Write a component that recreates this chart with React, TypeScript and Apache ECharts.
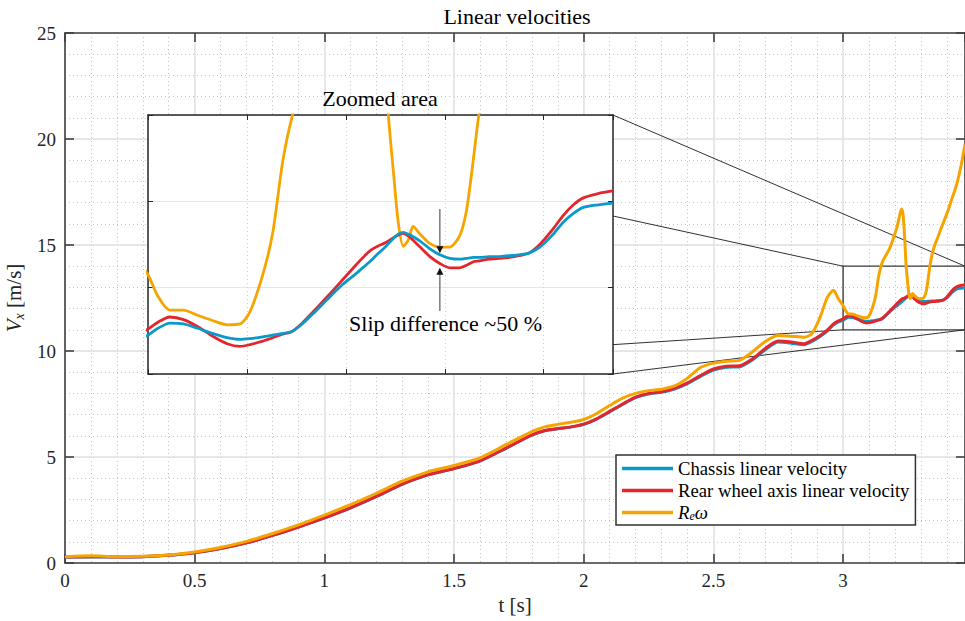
import React, { useEffect, useRef } from "react";
import * as echarts from "echarts";

// ---------- data ----------
const timeS = [
  0, 0.1, 0.2, 0.3, 0.4, 0.5, 0.6, 0.7, 0.8, 0.9, 1.0, 1.1, 1.2, 1.3, 1.4, 1.5, 1.6, 1.7, 1.8,
  1.85, 1.9, 1.95, 2.0,
  2.05, 2.1, 2.15, 2.2, 2.25, 2.3, 2.35, 2.4, 2.45, 2.5, 2.55, 2.6, 2.65, 2.7, 2.75, 2.8, 2.85,
  2.88, 2.91, 2.94, 2.963, 2.982,
  3.0, 3.01, 3.022, 3.036, 3.05, 3.065, 3.08, 3.093, 3.103, 3.116, 3.126, 3.136, 3.145, 3.155, 3.167, 3.18,
  3.195, 3.21, 3.22, 3.226, 3.232, 3.238, 3.243, 3.248, 3.253, 3.258, 3.263, 3.268, 3.275, 3.285, 3.295, 3.305,
  3.315, 3.322, 3.329, 3.335, 3.345, 3.355, 3.365, 3.375, 3.385, 3.396, 3.408, 3.42, 3.43, 3.44, 3.455, 3.47,
];

const chassisV = [
  0.27, 0.29, 0.28, 0.3, 0.36, 0.48, 0.68, 0.95, 1.3, 1.7, 2.12, 2.59, 3.13, 3.71, 4.16, 4.45, 4.81, 5.41, 6.03,
  6.24, 6.33, 6.41, 6.54,
  6.79, 7.13, 7.48, 7.8, 7.97, 8.05, 8.2, 8.46, 8.8, 9.1, 9.23, 9.25, 9.57, 10.06, 10.42, 10.37, 10.3,
  10.45, 10.67, 10.95, 11.23, 11.37,
  11.45, 11.53, 11.59, 11.58, 11.53, 11.47, 11.42, 11.4, 11.41, 11.43, 11.45, 11.47, 11.49, 11.57, 11.7, 11.85,
  12.02, 12.16, 12.26, 12.32, 12.39, 12.45, 12.51, 12.57, 12.62, 12.64, 12.62, 12.59, 12.54, 12.45, 12.38, 12.34,
  12.33, 12.34, 12.35, 12.35, 12.36, 12.36, 12.37, 12.38, 12.4, 12.47, 12.6, 12.76, 12.86, 12.93, 12.96, 12.98,
];

const rearAxisV = [
  0.28, 0.3, 0.28, 0.3, 0.36, 0.48, 0.68, 0.95, 1.3, 1.7, 2.13, 2.6, 3.14, 3.72, 4.17, 4.46, 4.82, 5.42, 6.04,
  6.25, 6.34, 6.42, 6.55,
  6.8, 7.15, 7.5, 7.82, 8.0, 8.08, 8.24, 8.5, 8.84, 9.15, 9.28, 9.3, 9.62, 10.12, 10.47, 10.42, 10.34,
  10.5, 10.72, 11.0, 11.28, 11.42,
  11.52, 11.6, 11.66, 11.63, 11.55, 11.44, 11.35, 11.32, 11.34, 11.38, 11.42, 11.46, 11.49, 11.58, 11.72, 11.88,
  12.07, 12.26, 12.38, 12.44, 12.48, 12.51, 12.54, 12.58, 12.61, 12.63, 12.6, 12.55, 12.47, 12.36, 12.28, 12.23,
  12.23, 12.26, 12.3, 12.31, 12.33, 12.34, 12.35, 12.37, 12.4, 12.5, 12.66, 12.84, 12.96, 13.04, 13.09, 13.12,
];

const reOmegaV = [
  0.3, 0.34, 0.3, 0.32, 0.38, 0.52, 0.73, 1.02, 1.39, 1.8, 2.26, 2.75, 3.29, 3.86, 4.3, 4.6, 4.96, 5.58, 6.2,
  6.42, 6.54, 6.64, 6.77,
  7.05, 7.43, 7.78, 8.0, 8.13, 8.2, 8.35, 8.72, 9.22, 9.43, 9.52, 9.56, 9.95, 10.45, 10.73, 10.7, 10.65,
  10.82, 11.55, 12.55, 12.86, 12.45,
  12.15, 11.9, 11.74, 11.74, 11.68, 11.62, 11.57, 11.58, 11.72, 12.15, 12.63, 13.45, 13.95, 14.3, 14.55, 14.85,
  15.35, 15.95, 16.5, 16.7, 16.35, 15.2, 14.0, 13.35, 12.75, 12.48, 12.55, 12.71, 12.62, 12.51, 12.47, 12.47,
  12.6, 12.9, 13.5, 14.05, 14.65, 15.05, 15.35, 15.7, 16.0, 16.35, 16.75, 17.2, 17.55, 17.95, 18.75, 19.75,
];

const seriesNames = ["Chassis linear velocity", "Rear wheel axis linear velocity", "Re ω"];

// axes ranges
const mainT = [0, 3.47];
const mainV = [0, 25];
const zoomT = [3.0, 3.47];
const zoomV = [11, 14];
// connector anchor values on the inset's right edge
const insetAnchorUpperV = 12.83;
const insetAnchorLowerV = 11.34;
// slip annotation (inset coordinates)
const arrowT = 3.295;
const arrowTop = [12.91, 12.4];
const arrowBottom = [11.73, 12.23];
const slipLabelPos = [3.3007, 11.58];

// ---------- styles ----------
const FONT = "Times New Roman";
const AX = "#404040";
const TXT = "#262626";
const C_BLUE = "#0a99c9";
const C_RED = "#e2262b";
const C_ORANGE = "#f5a400";

const pairs = (v: number[]) => timeS.map((t, i) => [t, v[i]]);

const txt = (size: number, color: string, extra: any = {}) => ({
  fontFamily: FONT,
  fontWeight: 400,
  fontSize: size,
  color,
  ...extra,
});

export default function App() {
  const ref = useRef<HTMLDivElement>(null);

  useEffect(() => {
    if (!ref.current) return;
    const chart = echarts.init(ref.current, null, { renderer: "svg" });

    const lineSeries = (name: string, data: number[], color: string, xi: number, yi: number, z: number, w: number) => ({
      type: "line",
      name,
      data: pairs(data),
      xAxisIndex: xi,
      yAxisIndex: yi,
      showSymbol: false,
      symbol: "none",
      smooth: 0.25,
      clip: true,
      z,
      lineStyle: { color, width: w },
      itemStyle: { color },
      emphasis: { disabled: true },
      silent: true,
    });

    const hiddenAxisBits = {
      axisLabel: { show: false },
      axisTick: { show: false },
      axisLine: { show: false },
      splitLine: { show: false },
    };

    const frameAxis = (color: string, w: number, tickLen: number, tickW: number) => ({
      axisLine: { show: true, onZero: false, lineStyle: { color, width: w } },
      axisTick: { show: true, inside: true, length: tickLen, lineStyle: { color, width: tickW } },
    });

    const option: any = {
      animation: false,
      title: [
        { text: "Linear velocities", left: 517, top: 5, padding: 0, textAlign: "center", textStyle: txt(22, "#000") },
        { text: "Zoomed area", left: 380, top: 87, padding: 0, textAlign: "center", textStyle: txt(22, "#000") },
      ],
      legend: {
        orient: "vertical",
        left: 616,
        top: 455,
        data: seriesNames,
        icon: "rect",
        itemWidth: 51,
        itemHeight: 3.5,
        itemGap: 3,
        padding: [4, 6, 3, 6],
        backgroundColor: "#ffffff",
        borderColor: "#333333",
        borderWidth: 1.5,
        borderRadius: 0,
        z: 10,
        selectedMode: false,
        formatter: (name: string) => (name === "Re ω" ? "{i|R}{s|e}{i|ω}" : name),
        textStyle: txt(18.7, "#000", {
          lineHeight: 18,
          rich: {
            i: txt(18.7, "#000", { fontStyle: "italic", lineHeight: 18 }),
            s: txt(12, "#000", { fontStyle: "italic", lineHeight: 8, verticalAlign: "bottom" }),
          },
        }),
      },
      grid: [
        { left: 65, top: 33, right: 0, height: 530, show: false, z: 0, containLabel: false, outerBoundsMode: "none" },
        {
          left: 148, top: 115, width: 465, height: 259, show: true, backgroundColor: "#ffffff", borderWidth: 0, z: 4,
          containLabel: false, outerBoundsMode: "none",
        },
        { left: 65, top: 33, right: 0, height: 530, show: false, z: 0, containLabel: false, outerBoundsMode: "none" },
      ],
      xAxis: [
        {
          type: "value",
          gridIndex: 0,
          position: "bottom",
          min: mainT[0],
          max: mainT[1],
          interval: 0.5,
          z: 1,
          ...frameAxis(AX, 1.6, 9, 1.6),
          axisLabel: { show: true, ...txt(19, TXT), margin: 8, showMaxLabel: false },
          splitLine: { show: true, lineStyle: { color: "#e2e2e2", width: 1.5 } },
          name: "t [s]",
          nameLocation: "middle",
          nameGap: 30,
          nameTextStyle: txt(21, TXT),
        },
        {
          type: "value",
          gridIndex: 0,
          position: "top",
          min: mainT[0],
          max: mainT[1],
          interval: 0.5,
          z: 1,
          ...frameAxis(AX, 1.6, 9, 1.6),
          axisLabel: { show: false },
          splitLine: { show: false },
        },
        {
          type: "value",
          gridIndex: 1,
          position: "bottom",
          min: zoomT[0],
          max: zoomT[1],
          interval: 0.1,
          z: 5,
          ...frameAxis("#262626", 1.5, 5, 1),
          axisLabel: { show: false },
          splitLine: { show: true, lineStyle: { color: "#cfcfcf", width: 1, type: [1, 3] } },
        },
        {
          type: "value",
          gridIndex: 1,
          position: "top",
          min: zoomT[0],
          max: zoomT[1],
          interval: 0.1,
          z: 5,
          ...frameAxis("#262626", 1.5, 5, 1),
          axisLabel: { show: false },
          splitLine: { show: false },
        },
        {
          type: "value",
          gridIndex: 2,
          position: "bottom",
          min: mainT[0],
          max: mainT[1],
          interval: 0.1,
          z: 0,
          ...hiddenAxisBits,
          splitLine: { show: true, lineStyle: { color: "#c4c4c4", width: 1, type: [1, 3] } },
        },
      ],
      yAxis: [
        {
          type: "value",
          gridIndex: 0,
          position: "left",
          min: mainV[0],
          max: mainV[1],
          interval: 5,
          z: 1,
          ...frameAxis(AX, 1.6, 9, 1.6),
          axisLabel: { show: true, ...txt(19, TXT), margin: 9 },
          splitLine: { show: true, lineStyle: { color: "#e2e2e2", width: 1.5 } },
          name: "{v|V}{s|x} [m/s]",
          nameLocation: "middle",
          nameGap: 31,
          nameRotate: 90,
          nameTextStyle: txt(21, TXT, {
            lineHeight: 24,
            rich: {
              v: txt(21, TXT, { fontStyle: "italic", lineHeight: 24 }),
              s: txt(14, TXT, { fontStyle: "italic", lineHeight: 10, verticalAlign: "bottom" }),
            },
          }),
        },
        {
          type: "value",
          gridIndex: 0,
          position: "right",
          min: mainV[0],
          max: mainV[1],
          interval: 5,
          z: 1,
          ...frameAxis(AX, 1.6, 9, 1.6),
          axisLabel: { show: false },
          splitLine: { show: false },
        },
        {
          type: "value",
          gridIndex: 1,
          position: "left",
          min: zoomV[0],
          max: zoomV[1],
          interval: 1,
          z: 5,
          ...frameAxis("#262626", 1.5, 5, 1),
          axisLabel: { show: false },
          splitLine: { show: true, lineStyle: { color: "#e6e6e6", width: 1.2 } },
        },
        {
          type: "value",
          gridIndex: 1,
          position: "right",
          min: zoomV[0],
          max: zoomV[1],
          interval: 1,
          z: 5,
          ...frameAxis("#262626", 1.5, 5, 1),
          axisLabel: { show: false },
          splitLine: { show: false },
        },
        {
          type: "value",
          gridIndex: 2,
          position: "left",
          min: mainV[0],
          max: mainV[1],
          interval: 1,
          z: 0,
          ...hiddenAxisBits,
          splitLine: { show: true, lineStyle: { color: "#c4c4c4", width: 1, type: [1, 3] } },
        },
      ],
      series: [
        lineSeries(seriesNames[0], chassisV, C_BLUE, 0, 0, 3, 3),
        lineSeries(seriesNames[1], rearAxisV, C_RED, 0, 0, 3, 3),
        lineSeries(seriesNames[2], reOmegaV, C_ORANGE, 0, 0, 3, 3),
        lineSeries(seriesNames[2], reOmegaV, C_ORANGE, 2, 2, 6, 2.8),
        lineSeries(seriesNames[1], rearAxisV, C_RED, 2, 2, 6, 2.8),
        lineSeries(seriesNames[0], chassisV, C_BLUE, 2, 2, 6, 2.8),
      ],
    };

    chart.setOption(option);

    const m = (x: number, y: number) => chart.convertToPixel({ xAxisIndex: 0, yAxisIndex: 0 } as any, [x, y]) as number[];
    const z = (x: number, y: number) => chart.convertToPixel({ xAxisIndex: 2, yAxisIndex: 2 } as any, [x, y]) as number[];

    const rTL = m(zoomT[0], zoomV[1]);
    const rTR = m(zoomT[1], zoomV[1]);
    const rBL = m(zoomT[0], zoomV[0]);
    const rBR = m(zoomT[1], zoomV[0]);
    const iTR = z(zoomT[1], zoomV[1]);
    const iU = z(zoomT[1], insetAnchorUpperV);
    const iL = z(zoomT[1], insetAnchorLowerV);
    const iBR = z(zoomT[1], zoomV[0]);

    const connector = (a: number[], b: number[]) => ({
      type: "line",
      z: 2,
      silent: true,
      shape: { x1: a[0], y1: a[1], x2: b[0], y2: b[1] },
      style: { stroke: "#1a1a1a", lineWidth: 0.9 },
    });

    const aTopStart = z(arrowT, arrowTop[0]);
    const aTopTip = z(arrowT, arrowTop[1]);
    const aBotStart = z(arrowT, arrowBottom[0]);
    const aBotTip = z(arrowT, arrowBottom[1]);
    const head = (tip: number[], dir: number) => ({
      type: "polygon",
      z: 8,
      silent: true,
      shape: {
        points: [
          [tip[0], tip[1]],
          [tip[0] - 3.5, tip[1] - dir * 7],
          [tip[0] + 3.5, tip[1] - dir * 7],
        ],
      },
      style: { fill: "#111111" },
    });
    const lbl = z(slipLabelPos[0], slipLabelPos[1]);

    chart.setOption({
      graphic: [
        {
          type: "rect",
          z: 2,
          silent: true,
          shape: { x: rTL[0], y: rTL[1], width: rTR[0] - rTL[0], height: rBL[1] - rTL[1] },
          style: { fill: "none", stroke: "#3a3a3a", lineWidth: 1.3 },
        },
        connector(iTR, rTR),
        connector(iU, rTL),
        connector(iL, rBL),
        connector(iBR, rBR),
        {
          type: "line",
          z: 8,
          silent: true,
          shape: { x1: aTopStart[0], y1: aTopStart[1], x2: aTopTip[0], y2: aTopTip[1] - 5 },
          style: { stroke: "#666666", lineWidth: 1.3 },
        },
        head(aTopTip, 1),
        {
          type: "line",
          z: 8,
          silent: true,
          shape: { x1: aBotStart[0], y1: aBotStart[1], x2: aBotTip[0], y2: aBotTip[1] + 5 },
          style: { stroke: "#666666", lineWidth: 1.3 },
        },
        head(aBotTip, -1),
        {
          type: "text",
          z: 8,
          silent: true,
          x: lbl[0],
          y: lbl[1],
          style: {
            text: "Slip difference ~50 %",
            fontFamily: FONT,
            fontWeight: 400,
            fontSize: 22,
            fill: "#000",
            align: "center",
            verticalAlign: "middle",
          },
        },
      ],
    });

    return () => chart.dispose();
  }, []);

  return <div ref={ref} style={{ position: "absolute", left: 0, top: 0, width: 965, height: 621, background: "#fff" }} />;
}
